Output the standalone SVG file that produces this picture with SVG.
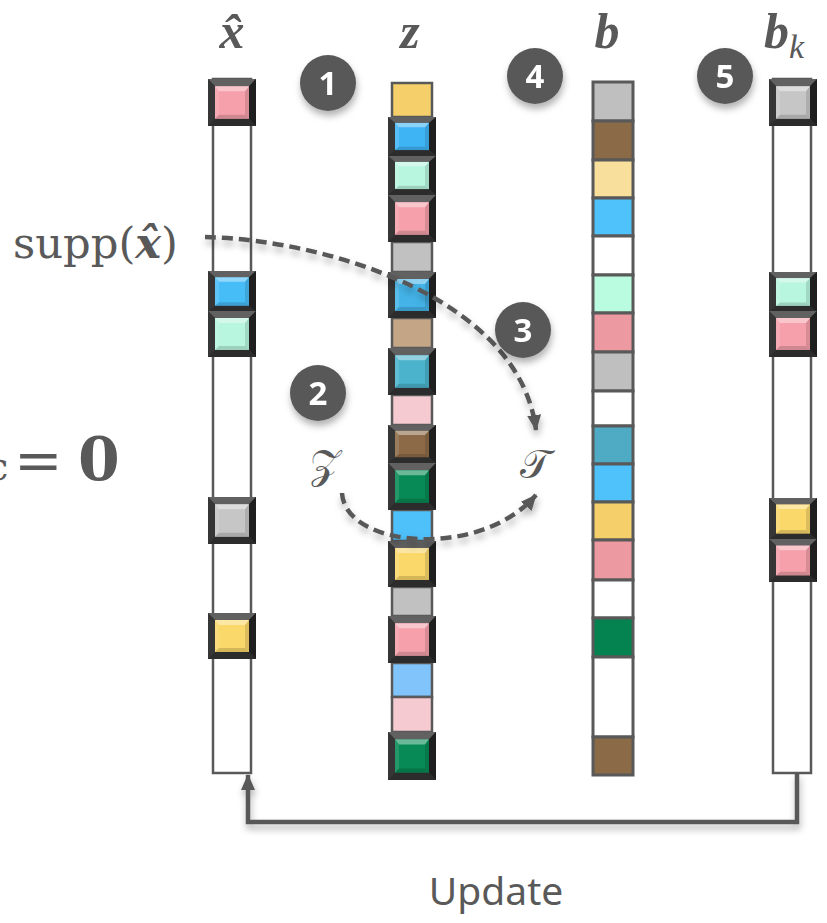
<svg xmlns="http://www.w3.org/2000/svg" xmlns:xlink="http://www.w3.org/1999/xlink" width="827" height="923" viewBox="0 0 827 923">
<style>
.col{fill:#fff;stroke:#595959;stroke-width:2.5}
.cell{stroke:#595959;stroke-width:2.5}
.bc{stroke:#595959;stroke-width:3}
.lbl{font-family:"Liberation Serif","DejaVu Serif",serif;font-weight:bold;font-style:italic;fill:#595959;text-anchor:middle}
.num{font-family:"Open Sans","Noto Sans",sans-serif;font-weight:bold;font-size:33px;fill:#fff;text-anchor:middle}
.badge{fill:#595959}
.dash{fill:none;stroke:#595959;stroke-width:4.5;stroke-dasharray:11 6}
.solid{fill:none;stroke:#595959;stroke-width:4.5}
.math{font-family:"DejaVu Serif","Liberation Serif",serif;fill:#595959}
</style>
<defs>
<filter id="sh" filterUnits="userSpaceOnUse" x="0" y="0" width="827" height="923">
<feDropShadow dx="1" dy="5" stdDeviation="3.5" flood-color="#000" flood-opacity="0.3"/>
</filter>
<marker id="ah" viewBox="0 0 16 16" refX="15" refY="8" markerWidth="16" markerHeight="16" orient="auto" markerUnits="userSpaceOnUse">
<path d="M0,1 L16,8 L0,15 z" fill="#595959"/>
</marker>
<symbol id="blk" viewBox="0 0 48 46" preserveAspectRatio="none">
<rect width="48" height="46" fill="#3d3d3d"/>
<polygon points="0,0 48,0 41,7 7,7" fill="#616161"/>
<polygon points="0,0 7,7 7,39 0,46" fill="#363636"/>
<polygon points="48,0 41,7 41,39 48,46" fill="#1f1f1f"/>
<polygon points="0,46 7,39 41,39 48,46" fill="#2c2c2c"/>
<rect x="7" y="7" width="34" height="32" fill="currentColor"/>
<polygon points="7,7 41,7 37,12 11,12" fill="#fff" opacity="0.4"/>
<polygon points="7,7 11,12 11,35 7,39" fill="#fff" opacity="0.12"/>
<polygon points="41,7 37,12 37,35 41,39" fill="#000" opacity="0.12"/>
<polygon points="7,39 11,35 37,35 41,39" fill="#000" opacity="0.15"/>
</symbol>
</defs>
<rect width="827" height="923" fill="#fff"/>

<g id="text-left">
<text class="math" font-size="42" x="13" y="258" textLength="165" lengthAdjust="spacingAndGlyphs">supp(<tspan font-weight="bold" font-style="italic">x̂</tspan>)</text>
<text class="math" y="480"><tspan x="-14" font-size="40">c</tspan><tspan x="14" font-size="58">=</tspan><tspan x="78" font-size="60" font-weight="bold">0</tspan></text>
</g>

<g id="col-xhat">
<text class="lbl" x="232" y="48" font-size="50">x̂</text>
<rect class="col" x="213" y="79" width="38" height="694"/>
<use href="#blk" x="208" y="79" width="48" height="47" color="#F5A0AA"/>
<use href="#blk" x="208" y="271" width="48" height="41" color="#47BDF8"/>
<use href="#blk" x="208" y="311" width="48" height="46" color="#B8F6E0"/>
<use href="#blk" x="208" y="497" width="48" height="47" color="#C6C6C6"/>
<use href="#blk" x="208" y="613" width="48" height="46" color="#FBD86A"/>
</g>

<g id="col-z">
<text class="lbl" x="410" y="48" font-size="50">z</text>
<rect class="cell" x="392" y="83" width="40" height="34" fill="#F5CF6A"/>
<rect class="cell" x="392" y="242" width="40" height="30" fill="#C1C1C1"/>
<rect class="cell" x="392" y="318" width="40" height="30" fill="#C4A585"/>
<rect class="cell" x="392" y="395" width="40" height="30" fill="#F5CAD1"/>
<rect class="cell" x="392" y="510" width="40" height="31" fill="#4EC0FA"/>
<rect class="cell" x="392" y="587" width="40" height="29" fill="#C1C1C1"/>
<rect class="cell" x="392" y="663" width="40" height="34" fill="#80C4FB"/>
<rect class="cell" x="392" y="697" width="40" height="35" fill="#F5CAD1"/>
<use href="#blk" x="388" y="117" width="48" height="39" color="#3FB4F5"/>
<use href="#blk" x="388" y="156" width="48" height="39" color="#B8F6E0"/>
<use href="#blk" x="388" y="195" width="48" height="47" color="#F5A0AA"/>
<use href="#blk" x="388" y="272" width="48" height="46" color="#44B3E8"/>
<use href="#blk" x="388" y="348" width="48" height="47" color="#4BB3CC"/>
<use href="#blk" x="388" y="425" width="48" height="38" color="#8C6A47"/>
<use href="#blk" x="388" y="463" width="48" height="47" color="#078A55"/>
<use href="#blk" x="388" y="541" width="48" height="46" color="#FBD86A"/>
<use href="#blk" x="388" y="616" width="48" height="47" color="#F5A0AA"/>
<use href="#blk" x="388" y="732" width="48" height="48" color="#078A55"/>
</g>

<g id="col-b">
<text class="lbl" x="607" y="48" font-size="50">b</text>
<rect class="bc" x="593" y="82" width="40" height="39" fill="#BFBFBF"/>
<rect class="bc" x="593" y="121" width="40" height="39" fill="#8B6B47"/>
<rect class="bc" x="593" y="160" width="40" height="38" fill="#F8DF9B"/>
<rect class="bc" x="593" y="198" width="40" height="38" fill="#4FC1FB"/>
<rect class="bc" x="593" y="236" width="40" height="39" fill="#FFFFFF"/>
<rect class="bc" x="593" y="275" width="40" height="38" fill="#BAFCE0"/>
<rect class="bc" x="593" y="313" width="40" height="39" fill="#EC99A1"/>
<rect class="bc" x="593" y="352" width="40" height="39" fill="#BFBFBF"/>
<rect class="bc" x="593" y="391" width="40" height="35" fill="#FFFFFF"/>
<rect class="bc" x="593" y="426" width="40" height="38" fill="#4FAAC3"/>
<rect class="bc" x="593" y="464" width="40" height="38" fill="#4FC1FB"/>
<rect class="bc" x="593" y="502" width="40" height="38" fill="#F5D06A"/>
<rect class="bc" x="593" y="540" width="40" height="40" fill="#EC99A1"/>
<rect class="bc" x="593" y="580" width="40" height="38" fill="#FFFFFF"/>
<rect class="bc" x="593" y="618" width="40" height="39" fill="#048250"/>
<rect class="bc" x="593" y="657" width="40" height="80" fill="#FFFFFF"/>
<rect class="bc" x="593" y="737" width="40" height="38" fill="#8B6B47"/>
</g>

<g id="col-bk">
<text class="lbl" x="784" y="48" font-size="50">b<tspan font-size="34" font-weight="normal" dy="10">k</tspan></text>
<rect class="col" x="773" y="79" width="38" height="694"/>
<use href="#blk" x="769" y="79" width="48" height="47" color="#C6C6C6"/>
<use href="#blk" x="769" y="272" width="48" height="40" color="#B8F6E0"/>
<use href="#blk" x="769" y="311" width="48" height="46" color="#F5A0AA"/>
<use href="#blk" x="769" y="498" width="48" height="42" color="#FBD86A"/>
<use href="#blk" x="769" y="539" width="48" height="43" color="#F5A0AA"/>
</g>

<g id="sets">
<text class="math" x="325" y="478" font-size="40" text-anchor="middle">𝒵</text>
<text class="math" x="535" y="478" font-size="40" text-anchor="middle">𝒯</text>
</g>

<g id="connectors">
<path class="dash" filter="url(#sh)" d="M205,237 C330,240 520,300 536,430" marker-end="url(#ah)"/>
<path class="dash" filter="url(#sh)" d="M342,493 C345,548 480,560 536,495" marker-end="url(#ah)"/>
<path class="solid" filter="url(#sh)" d="M797,773 V822 H248 V775" marker-end="url(#ah)"/>
</g>

<g id="update-label">
<text x="496" y="905" font-family="Noto Sans, Open Sans, sans-serif" font-size="39" fill="#595959" text-anchor="middle">Update</text>
</g>

<g id="step1" filter="url(#sh)"><circle class="badge" cx="328" cy="83" r="28"/><text class="num" x="328" y="95">1</text></g>
<g id="step2" filter="url(#sh)"><circle class="badge" cx="318" cy="393" r="28"/><text class="num" x="318" y="405">2</text></g>
<g id="step3" filter="url(#sh)"><circle class="badge" cx="523" cy="330" r="28"/><text class="num" x="523" y="342">3</text></g>
<g id="step4" filter="url(#sh)"><circle class="badge" cx="535" cy="76" r="28"/><text class="num" x="535" y="88">4</text></g>
<g id="step5" filter="url(#sh)"><circle class="badge" cx="725" cy="76" r="28"/><text class="num" x="725" y="88">5</text></g>
</svg>
